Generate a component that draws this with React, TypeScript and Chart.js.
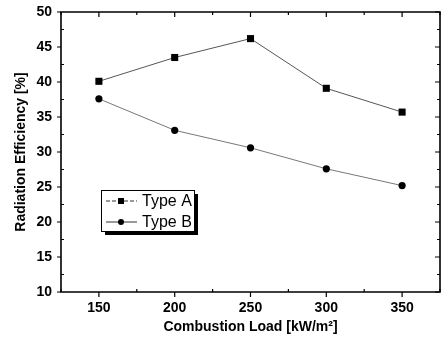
import { useEffect, useRef } from "react";
import { Chart, registerables } from "chart.js";

Chart.register(...registerables);

const loads = [150, 200, 250, 300, 350];
const typeA = [40.1, 43.5, 46.2, 39.1, 35.7];
const typeB = [37.6, 33.1, 30.6, 27.6, 25.2];
const xTickValues = [150, 200, 250, 300, 350];
const yTickValues = [10, 15, 20, 25, 30, 35, 40, 45, 50];
const seriesLabels = ["Type A", "Type B"];
const xTitle = "Combustion Load [kW/m²]";
const yTitle = "Radiation Efficiency [%]";

const FONT = "'Liberation Sans', Arial, Helvetica, sans-serif";

const framePlugin = {
  id: "frame",
  afterDraw(chart: any) {
    const { ctx, chartArea } = chart;
    const { left, right, top, bottom } = chartArea;
    const xs = chart.scales.x;
    const ys = chart.scales.y;
    ctx.save();
    ctx.strokeStyle = "#000";
    ctx.lineWidth = 1.6;
    ctx.beginPath();
    ctx.rect(left, top, right - left, bottom - top);
    ctx.stroke();
    ctx.lineWidth = 1.2;
    ctx.beginPath();
    for (let v = xs.min; v <= xs.max + 0.01; v += 25) {
      const px = xs.getPixelForValue(v);
      const major = v % 50 === 0;
      if (major) {
        ctx.moveTo(px, bottom); ctx.lineTo(px, bottom + 5);
        ctx.moveTo(px, top); ctx.lineTo(px, top + 5);
      } else {
        ctx.moveTo(px, bottom); ctx.lineTo(px, bottom - 3);
        ctx.moveTo(px, top); ctx.lineTo(px, top + 3);
      }
    }
    for (let v = ys.min; v <= ys.max + 0.01; v += 2.5) {
      const py = ys.getPixelForValue(v);
      const major = v % 5 === 0;
      if (major) {
        ctx.moveTo(left, py); ctx.lineTo(left - 4, py);
        ctx.moveTo(right, py); ctx.lineTo(right - 5, py);
      } else {
        ctx.moveTo(left, py); ctx.lineTo(left + 3, py);
        ctx.moveTo(right, py); ctx.lineTo(right - 3, py);
      }
    }
    ctx.stroke();
    ctx.restore();
  },
};

const legendPlugin = {
  id: "boxLegend",
  afterDraw(chart: any) {
    const { ctx, chartArea } = chart;
    const bx = chartArea.left + 40;
    const by = chartArea.top + 178;
    const bw = 93;
    const bh = 41;
    ctx.save();
    ctx.fillStyle = "#000";
    ctx.fillRect(bx + 4, by + 4, bw, bh);
    ctx.fillStyle = "#fff";
    ctx.fillRect(bx, by, bw, bh);
    ctx.strokeStyle = "#000";
    ctx.lineWidth = 1;
    ctx.strokeRect(bx + 0.5, by + 0.5, bw, bh);
    chart.data.datasets.forEach((ds: any, i: number) => {
      const cy = by + 11 + i * 21;
      ctx.strokeStyle = "#333";
      ctx.lineWidth = 1;
      ctx.setLineDash(i === 0 ? [4, 2] : []);
      ctx.beginPath();
      ctx.moveTo(bx + 5, cy);
      ctx.lineTo(bx + 36, cy);
      ctx.stroke();
      ctx.setLineDash([]);
      ctx.fillStyle = "#000";
      if (ds.pointStyle === "rect") {
        ctx.fillRect(bx + 17, cy - 3, 6, 6);
      } else {
        ctx.beginPath();
        ctx.arc(bx + 20, cy, 3, 0, Math.PI * 2);
        ctx.fill();
      }
      ctx.font = `16px ${FONT}`;
      ctx.textBaseline = "middle";
      ctx.textAlign = "left";
      ctx.fillText(ds.label, bx + 41, cy + 1);
    });
    ctx.restore();
  },
};

export default function App() {
  const ref = useRef<HTMLCanvasElement | null>(null);
  useEffect(() => {
    if (!ref.current) return;
    Chart.defaults.font.family = FONT;
    const chart = new Chart(ref.current, {
      type: "line",
      data: {
        datasets: [
          {
            label: seriesLabels[0],
            data: loads.map((x, i) => ({ x, y: typeA[i] })),
            borderColor: "#555",
            borderWidth: 1,
            pointStyle: "rect",
            pointRadius: 5,
            pointBackgroundColor: "#000",
            pointBorderColor: "#000",
            pointBorderWidth: 0,
            tension: 0,
          },
          {
            label: seriesLabels[1],
            data: loads.map((x, i) => ({ x, y: typeB[i] })),
            borderColor: "#777",
            borderWidth: 1,
            pointStyle: "circle",
            pointRadius: 3.6,
            pointBackgroundColor: "#000",
            pointBorderColor: "#000",
            pointBorderWidth: 0,
            tension: 0,
          },
        ],
      },
      options: {
        animation: false,
        responsive: false,
        devicePixelRatio: 1,
        layout: { autoPadding: false, padding: { top: 12, right: 1, left: 0, bottom: 0 } },
        plugins: { legend: { display: false }, tooltip: { enabled: false } },
        scales: {
          x: {
            type: "linear",
            min: 125,
            max: 375,
            grid: { display: false, drawTicks: false },
            border: { display: false },
            afterBuildTicks: (s: any) => {
              s.ticks = xTickValues.map((v) => ({ value: v }));
            },
            afterFit: (s: any) => {
              s.height = 49;
              s.paddingLeft = 0;
              s.paddingRight = 0;
            },
            ticks: {
              color: "#000",
              padding: 8,
              maxRotation: 0,
              font: { size: 14, weight: "bold" },
            },
            title: {
              display: true,
              text: xTitle,
              color: "#000",
              font: { size: 14, weight: "bold" },
              padding: { top: 0, bottom: 5.6 },
            },
          },
          y: {
            type: "linear",
            min: 10,
            max: 50,
            grid: { display: false, drawTicks: false },
            border: { display: false },
            afterBuildTicks: (s: any) => {
              s.ticks = yTickValues.map((v) => ({ value: v }));
            },
            afterFit: (s: any) => {
              s.width = 61;
              s.paddingTop = 0;
              s.paddingBottom = 0;
            },
            ticks: {
              color: "#000",
              padding: 9,
              font: { size: 14, weight: "bold" },
            },
            title: {
              display: true,
              text: yTitle,
              color: "#000",
              font: { size: 14, weight: "bold" },
              padding: { top: 12.6, bottom: 0 },
            },
          },
        },
      },
      plugins: [framePlugin, legendPlugin],
    } as any);
    return () => chart.destroy();
  }, []);
  return (
    <div style={{ position: "absolute", left: 0, top: 0, width: 441, height: 341, background: "#fff" }}>
      <canvas ref={ref} width={441} height={341} />
    </div>
  );
}
